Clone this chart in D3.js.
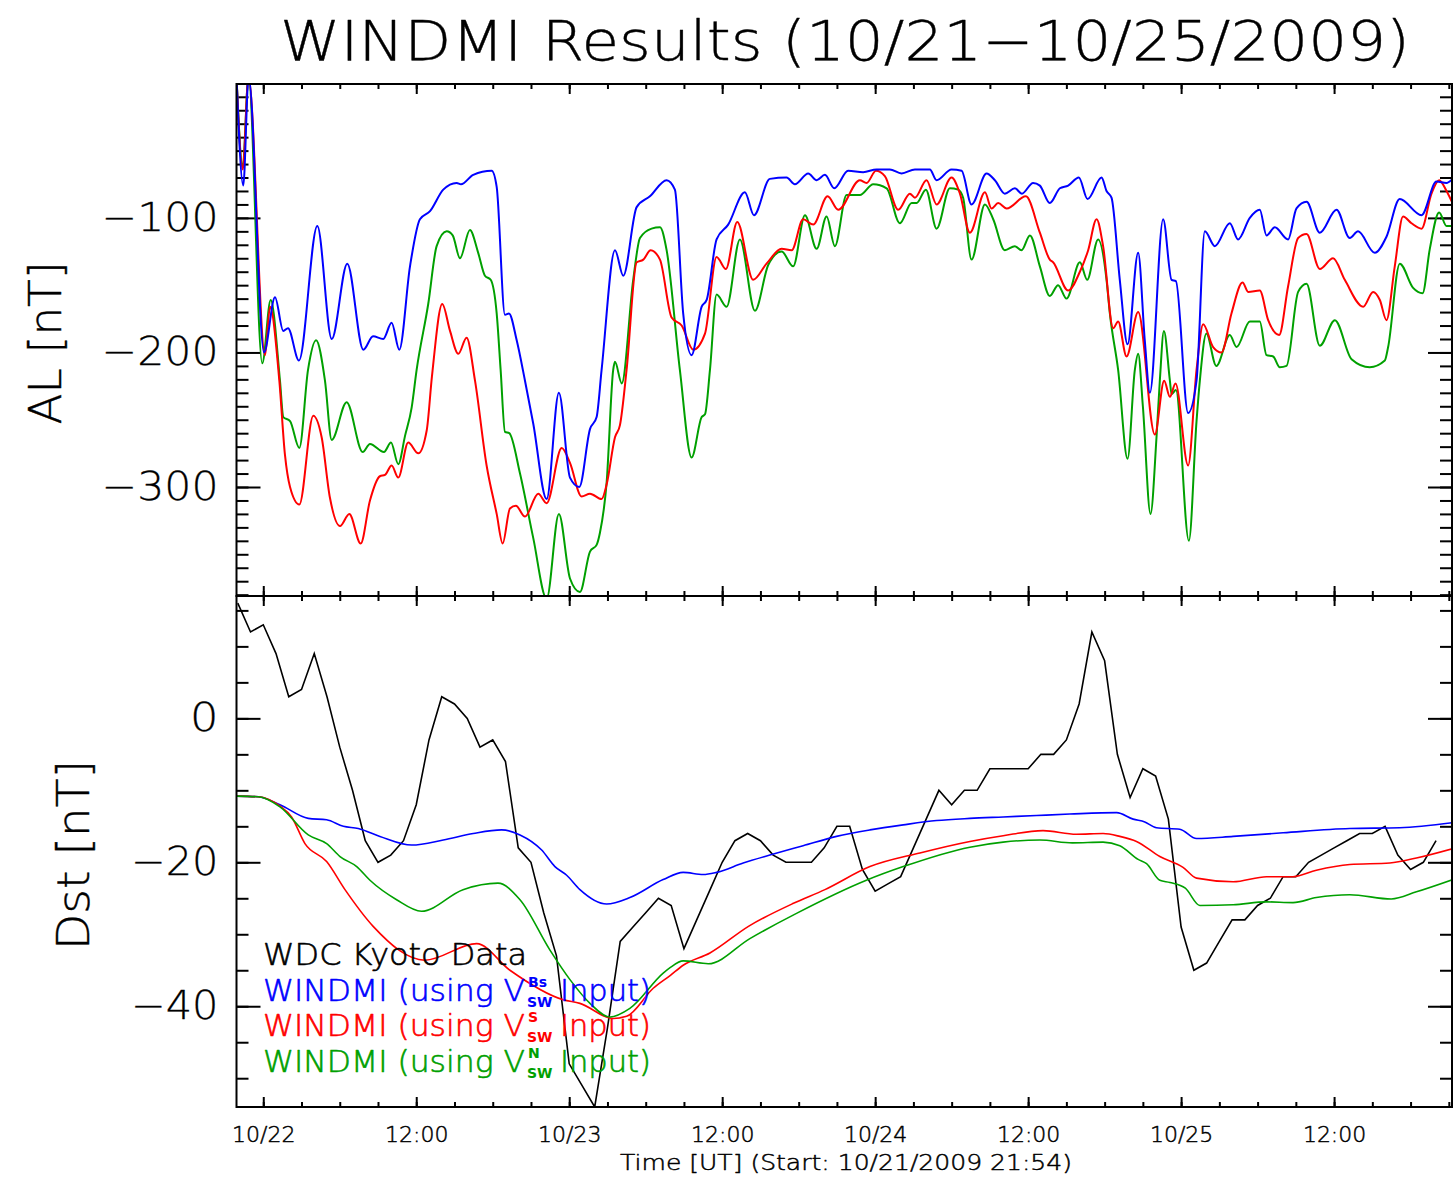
<!DOCTYPE html>
<html>
<head>
<meta charset="utf-8">
<script src="https://cdn.jsdelivr.net/npm/d3@7"></script>
<style>
  body { margin: 0; background: #fff; }
  text { font-family: "DejaVu Sans ExtraLight", "DejaVu Sans", sans-serif; font-weight: 200; }
</style>
</head>
<body>
<svg id="chart" width="1453" height="1181"></svg>
<script>
// ---- data (hours since 10/21/2009 21:54 UT, value in nT) ----
const alBlue = [[0,5],[0.53,-76],[0.95,5],[2.16,-200],[3.02,-159],[3.67,-184],[4.04,-182],[4.90,-206],[6.34,-106],[7.47,-190],[8.69,-134],[9.95,-198],[10.71,-188],[11.51,-190],[12.17,-178],[12.77,-198],[13.61,-136],[14.39,-101],[15.18,-95],[16.22,-79],[17.27,-74],[17.61,-75],[18.57,-68],[20.02,-65],[20.41,-77],[21.06,-172],[21.37,-171],[21.98,-191],[22.63,-221],[23.28,-253],[24.33,-309],[25.29,-230],[26.16,-293],[26.89,-300],[27.73,-257],[28.25,-248],[28.64,-213],[29.69,-124],[30.34,-143],[31.39,-92],[32.43,-84],[33.74,-72],[34.39,-79],[35.04,-171],[35.70,-202],[36.49,-166],[36.88,-161],[37.66,-116],[38.57,-105],[39.88,-81],[40.59,-98],[41.84,-71],[43.15,-70],[43.80,-75],[44.85,-67],[45.51,-72],[46.16,-68],[46.89,-78],[47.98,-65],[49.16,-66],[50.21,-64],[51.25,-64],[52.17,-67],[53.22,-64],[54.39,-64],[54.92,-72],[56.09,-64],[56.88,-65],[57.66,-90],[58.84,-67],[59.49,-72],[60.27,-82],[61.06,-78],[61.61,-82],[62.49,-74],[63.02,-76],[63.80,-89],[64.59,-78],[65.24,-76],[66.08,-70],[66.76,-86],[67.86,-70],[68.25,-80],[68.64,-85],[69.29,-146],[69.90,-194],[70.73,-126],[71.25,-191],[71.65,-230],[72.69,-101],[73.35,-146],[73.69,-147],[74.65,-245],[75.31,-221],[75.96,-110],[76.75,-121],[77.92,-104],[78.57,-116],[79.49,-100],[80.27,-94],[80.80,-113],[81.45,-107],[82.49,-116],[83.15,-93],[83.94,-88],[84.98,-111],[86.29,-94],[87.33,-115],[87.98,-110],[89.29,-126],[90.21,-114],[91.25,-86],[92.96,-98],[94.13,-73],[94.92,-74],[95.39,-71]];

const alRed = [[0,5],[0.49,-64],[0.94,5],[2.24,-202],[2.63,-166],[3.36,-221],[3.80,-276],[4.20,-300],[4.93,-313],[6.02,-247],[6.68,-263],[7.33,-308],[8.12,-329],[8.85,-320],[9.74,-342],[10.47,-310],[11.25,-292],[11.65,-291],[12.17,-284],[12.69,-293],[13.47,-267],[14.26,-275],[14.92,-258],[15.33,-218],[16.14,-164],[16.75,-184],[17.40,-201],[18.05,-189],[18.71,-221],[19.62,-284],[20.41,-320],[20.88,-342],[21.45,-316],[21.92,-314],[22.63,-322],[23.67,-305],[24.33,-312],[25.51,-271],[26.16,-282],[27.07,-307],[27.73,-305],[28.64,-309],[29.04,-298],[29.69,-263],[30.08,-254],[30.60,-213],[31.39,-133],[31.91,-131],[32.49,-124],[33.22,-131],[34.13,-174],[34.92,-180],[35.83,-198],[36.75,-186],[37.66,-129],[38.39,-138],[39.28,-103],[40.53,-146],[41.58,-134],[42.76,-123],[43.55,-124],[44.45,-101],[45.24,-105],[46.37,-84],[47.20,-94],[48.90,-72],[49.43,-74],[50.16,-65],[50.86,-69],[51.91,-94],[52.82,-82],[53.22,-85],[54.13,-72],[54.92,-90],[56.09,-70],[56.75,-82],[57.53,-111],[58.71,-81],[59.23,-93],[59.75,-89],[60.41,-93],[61.92,-84],[63.02,-111],[63.80,-131],[64.06,-133],[65.24,-154],[66.16,-140],[66.81,-124],[67.47,-101],[67.98,-121],[68.77,-182],[69.16,-177],[69.82,-203],[70.73,-170],[72.04,-261],[72.77,-221],[73.22,-233],[73.66,-223],[74.65,-284],[75.31,-213],[75.83,-179],[76.61,-196],[77.27,-200],[78.05,-171],[78.92,-148],[79.36,-155],[80.27,-154],[80.93,-176],[81.79,-187],[82.49,-151],[83.28,-115],[83.94,-112],[84.98,-138],[86.02,-130],[86.94,-146],[88.38,-166],[89.16,-155],[89.69,-161],[90.21,-176],[90.86,-136],[91.51,-99],[92.17,-104],[92.96,-108],[93.74,-82],[94.34,-72],[94.92,-80],[95.39,-89]];

const alGreen = [[0,5],[0.49,-62],[0.94,5],[2.02,-208],[2.68,-161],[3.41,-221],[3.67,-248],[4.20,-251],[4.93,-271],[5.61,-213],[6.24,-191],[6.94,-221],[7.47,-265],[8.64,-237],[9.90,-274],[10.47,-268],[11.57,-274],[12.12,-267],[12.69,-283],[13.22,-262],[13.74,-241],[14.13,-213],[15.04,-164],[15.70,-121],[16.49,-110],[16.96,-113],[17.53,-130],[18.31,-109],[18.96,-126],[19.49,-143],[19.94,-146],[20.41,-171],[20.72,-213],[21.06,-259],[21.40,-260],[22.24,-290],[23.28,-338],[24.33,-383],[25.29,-320],[26.16,-368],[26.94,-378],[27.73,-348],[28.25,-343],[28.51,-334],[29.04,-296],[29.55,-213],[29.69,-207],[30.22,-223],[31.12,-146],[31.65,-115],[32.56,-108],[33.22,-107],[33.74,-124],[34.78,-213],[35.70,-278],[36.49,-248],[36.75,-246],[37.14,-213],[37.66,-157],[38.45,-166],[39.49,-116],[40.67,-169],[41.71,-135],[42.76,-125],[43.67,-136],[44.59,-98],[45.51,-123],[46.29,-99],[46.94,-121],[47.86,-83],[48.90,-83],[49.95,-75],[51.00,-78],[52.04,-104],[52.96,-89],[53.35,-89],[54.08,-79],[54.92,-108],[55.96,-78],[56.61,-79],[57.00,-85],[57.66,-131],[58.71,-90],[59.36,-101],[60.27,-124],[61.06,-121],[61.58,-124],[62.24,-113],[63.02,-136],[63.80,-158],[64.45,-150],[65.11,-160],[66.16,-133],[66.73,-146],[67.59,-116],[68.25,-146],[68.51,-171],[69.16,-213],[69.90,-279],[70.47,-213],[70.73,-201],[71.10,-240],[71.70,-320],[72.17,-263],[72.43,-221],[72.75,-184],[73.22,-221],[73.35,-231],[73.69,-228],[74.71,-340],[75.31,-251],[75.57,-221],[76.08,-186],[76.86,-210],[77.92,-187],[78.45,-196],[79.49,-177],[80.27,-177],[80.80,-202],[81.32,-203],[81.84,-211],[82.37,-210],[83.28,-155],[83.94,-149],[84.98,-195],[86.16,-176],[87.47,-205],[88.90,-211],[90.08,-206],[90.34,-196],[91.25,-134],[92.30,-152],[93.04,-156],[93.61,-123],[94.34,-96],[94.92,-106],[95.39,-106]];

// Kyoto Dst, hourly from 10/21 22:00 UT
const dstKyotoStart = 0.1;
const dstKyoto = [16,12,13,9,3,4,9,3,-4,-10,-17,-20,-19,-17,-12,-3,3,2,0,-4,-3,-6,-18,-20,-27,-33,-48,-51,-54,-43,-31,-29,-27,-25,-26,-32,-28,-24,-20,-17,-16,-17,-19,-20,-20,-20,-18,-15,-15,-21,-24,-23,-22,-18,-14,-10,-12,-10,-10,-7,-7,-7,-7,-5,-5,-3,2,12,8,-5,-11,-7,-8,-14,-29,-35,-34,-31,-28,-28,-26,-25,-22,-22,-20,-19,-18,-17,-16,-16,-15,-19,-21,-20,-17];

const dstBlue = [[0,-10.8],[1.71,-10.9],[3.41,-12.0],[5.63,-13.9],[7.07,-14.1],[8.38,-15.0],[9.55,-15.3],[11.25,-16.4],[13.74,-17.6],[16.22,-16.9],[18.57,-16.0],[20.80,-15.5],[22.24,-16.2],[23.94,-18.3],[24.98,-20.6],[25.90,-21.8],[26.94,-23.8],[29.04,-25.8],[30.86,-24.9],[33.47,-22.4],[35.04,-21.4],[36.61,-21.7],[37.66,-21.4],[39.75,-20.1],[41.84,-19.0],[44.45,-17.7],[47.07,-16.4],[49.69,-15.5],[52.30,-14.8],[54.92,-14.2],[57.53,-13.9],[60.14,-13.7],[62.76,-13.5],[65.37,-13.3],[69.04,-13.1],[70.34,-14.0],[71.25,-14.4],[72.17,-15.2],[74.00,-15.4],[75.31,-16.7],[78.18,-16.4],[82.10,-15.9],[87.33,-15.3],[91.25,-15.2],[95.41,-14.5]];

const dstRed = [[0,-10.8],[1.71,-10.9],[3.41,-12.2],[4.32,-13.7],[5.37,-17.4],[7.07,-19.9],[8.51,-23.8],[10.72,-28.9],[14.78,-33.6],[18.84,-31.3],[21.45,-35.0],[25.63,-39.1],[26.94,-39.6],[29.55,-41.7],[30.60,-41.4],[32.69,-37.5],[34.04,-35.7],[35.04,-34.3],[37.14,-32.6],[40.16,-28.9],[43.69,-25.7],[46.16,-23.8],[49.69,-20.6],[53.61,-18.7],[57.53,-17.1],[60.14,-16.3],[63.27,-15.6],[65.88,-16.1],[67.98,-16.0],[69.29,-16.4],[70.60,-17.1],[72.43,-19.2],[74.25,-20.7],[75.31,-22.2],[78.18,-22.7],[80.80,-22.0],[82.88,-22.0],[84.71,-21.1],[87.33,-20.3],[90.47,-20.1],[92.56,-19.4],[95.41,-18.1]];

const dstGreen = [[0,-10.8],[1.71,-10.9],[3.41,-12.3],[5.63,-16.2],[7.07,-17.4],[8.12,-19.2],[9.43,-20.6],[10.47,-22.5],[12.56,-25.2],[14.51,-26.8],[17.77,-23.8],[20.51,-22.9],[22.24,-25.2],[24.59,-32.2],[26.16,-36.3],[27.73,-39.6],[29.29,-41.5],[30.86,-40.3],[33.47,-35.4],[34.04,-34.6],[35.04,-33.7],[37.00,-34.1],[40.27,-30.6],[43.93,-27.1],[49.41,-22.5],[52.30,-20.6],[57.53,-17.9],[60.14,-17.2],[63.02,-16.9],[65.57,-17.3],[67.98,-17.2],[69.29,-17.7],[70.73,-19.6],[71.39,-20.2],[72.43,-22.5],[73.22,-22.8],[74.43,-23.6],[75.57,-26.0],[78.18,-25.9],[80.80,-25.5],[82.88,-25.6],[84.71,-24.9],[87.33,-24.5],[90.59,-25.1],[92.56,-24.1],[95.41,-22.4]];

const alMajor = [-300, -200, -100];
const dstMajor = [-40, -20, 0];
const legendLines = [
  { pre: "WDC Kyoto Data", color: "#000000" },
  { pre: "WINDMI (using V", sup: "Bs", post: "Input)", color: "#0000ff" },
  { pre: "WINDMI (using V", sup: "S", post: "Input)", color: "#ff0000" },
  { pre: "WINDMI (using V", sup: "N", post: "Input)", color: "#00a000" }
];

// ---- layout ----
const W = 1453, H = 1181;
const left = 236.5, right = 1452;
const alTop = 84, mid = 596, dstBottom = 1107;
const colors = { blue: "#0000ff", red: "#ff0000", green: "#00a000", black: "#000000" };
const startMs = Date.UTC(2009, 9, 21, 21, 54);
const toDate = h => new Date(startMs + h * 3600e3);

const svg = d3.select("#chart");
svg.append("rect").attr("width", W).attr("height", H).attr("fill", "#fff");

const x = d3.scaleUtc().domain([toDate(0), toDate(95.35)]).range([left, right]);
const yAL = d3.scaleLinear().domain([-381, -0.5]).range([mid, alTop]);
const yDst = d3.scaleLinear().domain([-54, 17]).range([dstBottom, mid]);

const majorT = d3.utcHour.every(12).range(x.domain()[0], x.domain()[1]);
const minorT = d3.utcHour.every(3).range(x.domain()[0], x.domain()[1]);

// thin hershey-like glyphs get a hairline outline to match stroke weight
function weight(sel, color, w) {
  return sel.attr("stroke", color).attr("stroke-width", w).attr("stroke-linejoin", "round");
}

const defs = svg.append("defs");
function clip(id, top, bottom) {
  defs.append("clipPath").attr("id", id).append("rect")
    .attr("x", left).attr("y", top).attr("width", right - left).attr("height", bottom - top);
}
clip("clipAL", alTop, mid);
clip("clipDst", mid, dstBottom);

function styleAxis(g) {
  g.select(".domain").remove();
  g.selectAll("line").attr("stroke", "#000").attr("stroke-width", 2);
}

function panel(y, top, bottom, major, minorStep, labels) {
  const g = svg.append("g");
  const d = y.domain();
  const minorY = d3.range(Math.ceil(d[0] / minorStep) * minorStep, d[1], minorStep);

  // x ticks, bottom and top
  g.append("g").attr("transform", `translate(0,${bottom})`)
    .call(d3.axisBottom(x).tickValues(minorT).tickSize(-5).tickFormat("")).call(styleAxis);
  const bx = g.append("g").attr("transform", `translate(0,${bottom})`)
    .call(d3.axisBottom(x).tickValues(majorT).tickSize(-10).tickPadding(19)
      .tickFormat(t => labels ? (t.getUTCHours() === 0 ? d3.utcFormat("%m/%d")(t) : "12:00") : ""))
    .call(styleAxis);
  bx.attr("font-family", null);
  weight(bx.selectAll("text").attr("font-size", 22).attr("fill", "#000"), "#000", 0.5);
  g.append("g").attr("transform", `translate(0,${top})`)
    .call(d3.axisTop(x).tickValues(minorT).tickSize(-5).tickFormat("")).call(styleAxis);
  g.append("g").attr("transform", `translate(0,${top})`)
    .call(d3.axisTop(x).tickValues(majorT).tickSize(-10).tickFormat("")).call(styleAxis);

  // y ticks, left and right
  g.append("g").attr("transform", `translate(${left},0)`)
    .call(d3.axisLeft(y).tickValues(minorY).tickSize(-12).tickFormat("")).call(styleAxis);
  const ly = g.append("g").attr("transform", `translate(${left},0)`)
    .call(d3.axisLeft(y).tickValues(major).tickSize(-24).tickPadding(18)).call(styleAxis);
  ly.attr("font-family", null);
  weight(ly.selectAll("text").attr("font-size", 39).attr("fill", "#000"), "#000", 0.3)
    .attr("textLength", function () { return this.textContent.length * 29.5 - 1; })
    .attr("lengthAdjust", "spacingAndGlyphs");
  g.append("g").attr("transform", `translate(${right},0)`)
    .call(d3.axisRight(y).tickValues(minorY).tickSize(-12).tickFormat("")).call(styleAxis);
  g.append("g").attr("transform", `translate(${right},0)`)
    .call(d3.axisRight(y).tickValues(major).tickSize(-24).tickFormat("")).call(styleAxis);
  return g;
}

panel(yAL, alTop, mid, alMajor, 10, false);
panel(yDst, mid, dstBottom, dstMajor, 5, true);

// ---- lines ----
const lineAL = d3.line().x(d => x(toDate(d[0]))).y(d => yAL(d[1])).curve(d3.curveMonotoneX);
const lineDst = d3.line().x(d => x(toDate(d[0]))).y(d => yDst(d[1])).curve(d3.curveMonotoneX);

const gAL = svg.append("g").attr("clip-path", "url(#clipAL)");
[[alGreen, colors.green], [alRed, colors.red], [alBlue, colors.blue]].forEach(([data, c]) => {
  gAL.append("path").datum(data).attr("d", lineAL)
    .attr("fill", "none").attr("stroke", c).attr("stroke-width", 2);
});

const gDst = svg.append("g").attr("clip-path", "url(#clipDst)");
const kyoto = dstKyoto.map((v, i) => [dstKyotoStart + i, v]);
gDst.append("path").datum(kyoto)
  .attr("d", d3.line().x(d => x(toDate(d[0]))).y(d => yDst(d[1])))
  .attr("fill", "none").attr("stroke", colors.black).attr("stroke-width", 1.6);
[[dstBlue, colors.blue], [dstRed, colors.red], [dstGreen, colors.green]].forEach(([data, c]) => {
  gDst.append("path").datum(data).attr("d", lineDst)
    .attr("fill", "none").attr("stroke", c).attr("stroke-width", 1.6);
});

// frames
[[alTop, mid], [mid, dstBottom]].forEach(([t, b]) => {
  svg.append("rect").attr("x", left).attr("y", t).attr("width", right - left).attr("height", b - t)
    .attr("fill", "none").attr("stroke", "#000").attr("stroke-width", 2);
});

// ---- texts ----
weight(svg.append("text").attr("x", 280).attr("y", 60).attr("font-size", 55)
  .attr("textLength", 1130).attr("lengthAdjust", "spacingAndGlyphs")
  .text("WINDMI Results (10/21\u221210/25/2009)"), "#000", 0.4);

weight(svg.append("text").attr("transform", "translate(61,343) rotate(-90)")
  .attr("text-anchor", "middle").attr("font-size", 44)
  .attr("textLength", 163).attr("lengthAdjust", "spacingAndGlyphs").text("AL [nT]"), "#000", 0.4);
weight(svg.append("text").attr("transform", "translate(89,855) rotate(-90)")
  .attr("text-anchor", "middle").attr("font-size", 44)
  .attr("textLength", 190).attr("lengthAdjust", "spacingAndGlyphs").text("Dst [nT]"), "#000", 0.4);

weight(svg.append("text").attr("x", 620).attr("y", 1170).attr("font-size", 22)
  .attr("textLength", 452).attr("lengthAdjust", "spacingAndGlyphs")
  .text("Time [UT] (Start: 10/21/2009 21:54)"), "#000", 0.5);

// legend
legendLines.forEach((d, i) => {
  const yb = 965 + i * 35.7;
  const g = svg.append("g").attr("fill", d.color);
  weight(g.append("text").attr("x", 263).attr("y", yb).attr("font-size", 30)
    .attr("textLength", d.sup ? 262 : 264).attr("lengthAdjust", "spacingAndGlyphs").text(d.pre), d.color, 0.6);
  if (d.sup) {
    g.append("text").attr("x", 528).attr("y", yb - 14).attr("font-size", 14)
      .style("font-weight", "bold").style("font-family", "'DejaVu Sans', sans-serif").text(d.sup);
    g.append("text").attr("x", 527).attr("y", yb + 6).attr("font-size", 14)
      .style("font-weight", "bold").style("font-family", "'DejaVu Sans', sans-serif").text("SW");
    weight(g.append("text").attr("x", 560).attr("y", yb).attr("font-size", 30)
      .attr("textLength", 91).attr("lengthAdjust", "spacingAndGlyphs").text(d.post), d.color, 0.6);
  }
});
</script>
</body>
</html>
